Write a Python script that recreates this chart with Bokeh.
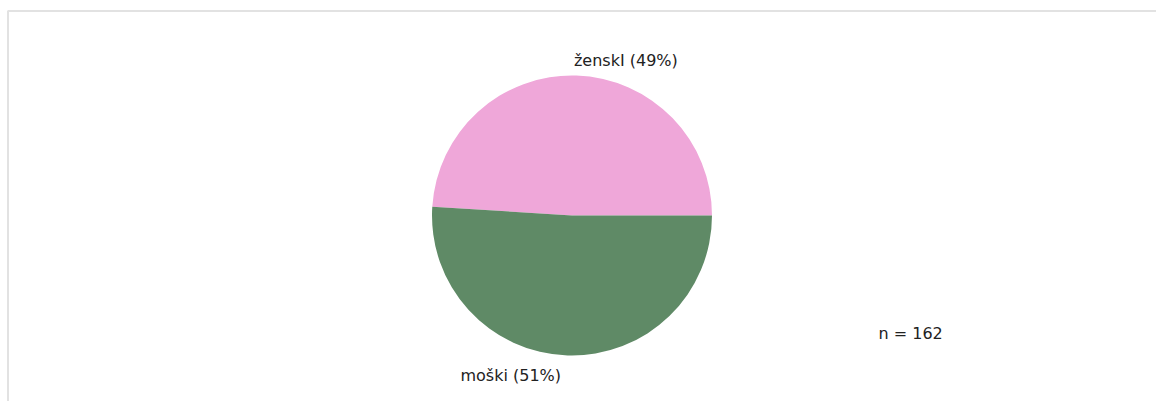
import math
from bokeh.plotting import figure
from bokeh.models import Range1d
from bokeh.core.properties import value
from bokeh.embed import file_html
from bokeh.resources import INLINE

categories = ["ženskI", "moški"]
percents = [49, 51]
colors = ["#EFA7D9", "#5F8A66"]
n_total = 162

W, H = 1156, 401
cx, cy, r = 571.5, H - 215, 140

p = figure(width=W, height=H, output_backend="svg", toolbar_location=None,
           x_range=Range1d(0, W), y_range=Range1d(0, H), min_border=0)
p.axis.visible = False
p.grid.visible = False
p.outline_line_color = None
p.background_fill_color = "white"
p.border_fill_color = "white"

# chart frame
p.quad(left=[7.5], right=[W + 20], top=[H - 10.5], bottom=[-20],
       fill_color=None, line_color="#e2e2e2", line_width=2)

total = sum(percents)
start = 0.0
lx, ly, lt, la = [], [], [], []
starts, ends = [], []
for cat, pc in zip(categories, percents):
    a0 = start
    a1 = start + 2 * math.pi * pc / total
    starts.append(a0)
    ends.append(a1)
    mid = (a0 + a1) / 2
    R = r + 17.5
    lx.append(cx + R * math.cos(mid))
    ly.append(cy + R * math.sin(mid) - 2.5)
    lt.append(f"{cat} ({pc}%)")
    la.append("left" if math.cos(mid) >= 0 else "right")
    start = a1

p.wedge(x=[cx] * len(percents), y=[cy] * len(percents), radius=r,
        start_angle=starts, end_angle=ends, fill_color=colors,
        line_color=None)

for x, y, t, a in zip(lx, ly, lt, la):
    p.text(x=[x + (-3 if a == "left" else -6)], y=[y], text=[t], text_align=a,
           text_baseline="middle", text_font=value("DejaVu Sans"),
           text_font_size="16px", text_color="#222222")

p.text(x=[878], y=[H - 333], text=[f"n = {n_total}"], text_align="left",
       text_baseline="middle", text_font=value("DejaVu Sans"),
       text_font_size="16px", text_color="#222222")

open("out.html", "w").write(file_html(p, INLINE))
